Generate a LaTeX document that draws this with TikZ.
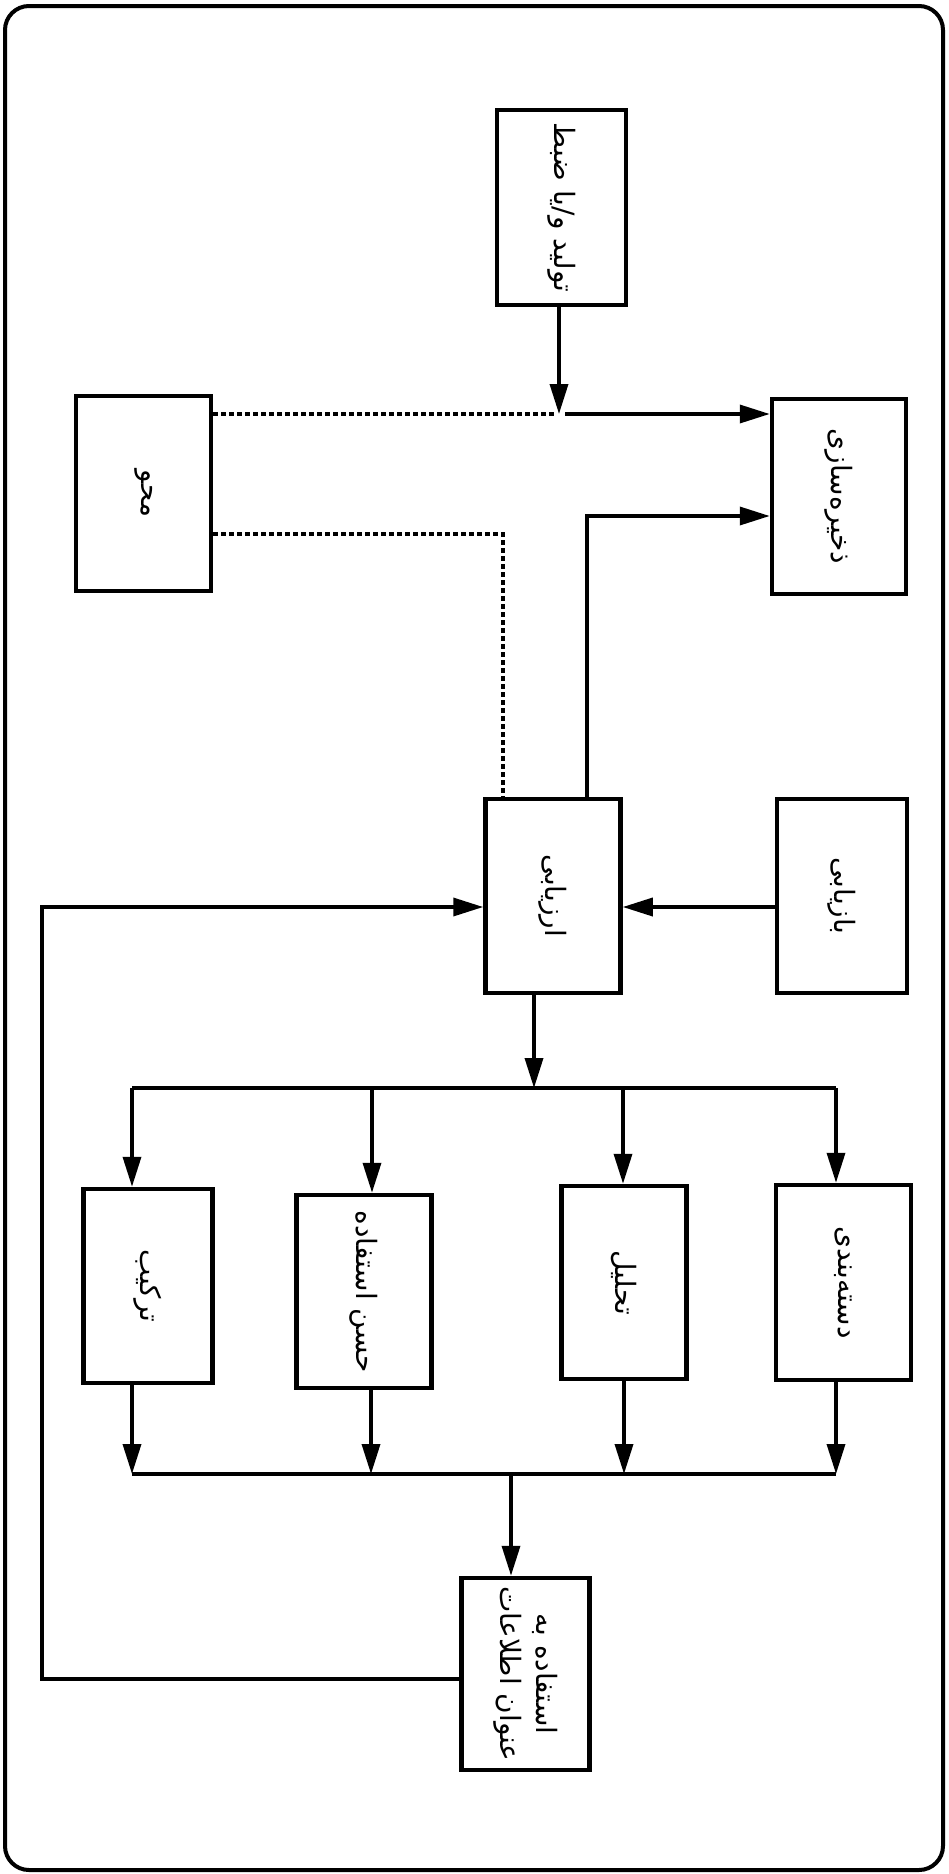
\documentclass[tikz,border=0pt]{standalone}
\usepackage{fontspec}
\usepackage{graphicx}
\newfontfamily\fa[Script=Arabic]{DejaVu Sans}
\TeXXeTstate=1
\usetikzlibrary{arrows.meta}
\newcommand{\rtxt}[1]{\rotatebox{-90}{\fa\beginR #1\endR}}
\begin{document}
\begin{tikzpicture}[x=1pt,y=-1pt,
  box/.style={draw, line width=4.5pt, inner sep=0pt, font=\fontsize{28}{34}\selectfont},
  arr/.style={line width=3.5pt, -{Triangle[length=30pt,width=18pt]}},
  ln/.style={line width=3.5pt},
  dsh/.style={line width=3.5pt, dash pattern=on 5pt off 3pt},
  frm/.style={draw, line width=4pt, rounded corners=24pt, inner sep=0pt}
]
\useasboundingbox (0,0) rectangle (948,1874);
\node[frm, minimum width=938pt, minimum height=1864pt] (frame) at (474,938) {};

% boxes
\node[box, minimum width=129pt, minimum height=195pt] (gen) at (561.5,207.5) {\rtxt{تولید و/یا ضبط}};
\node[box, minimum width=135pt, minimum height=195pt] (mahv) at (143.5,493.5) {\rtxt{محو}};
\node[box, minimum width=134pt, minimum height=195pt] (store) at (839,496.5) {\rtxt{ذخیره‌سازی}};
\node[box, minimum width=135pt, minimum height=194pt] (eval) at (553,896) {\rtxt{ارزیابی}};
\node[box, minimum width=130pt, minimum height=194pt] (retr) at (842,896) {\rtxt{بازیابی}};
\node[box, minimum width=129pt, minimum height=194pt] (comb) at (148,1286) {\rtxt{ترکیب}};
\node[box, minimum width=135pt, minimum height=193pt] (good) at (364,1291.5) {\rtxt{حسن استفاده}};
\node[box, minimum width=125pt, minimum height=193pt] (anal) at (624,1282.5) {\rtxt{تحلیل}};
\node[box, minimum width=135pt, minimum height=195pt] (class) at (843.5,1282.5) {\rtxt{دسته‌بندی}};
\node[box, minimum width=128pt, minimum height=192pt] (use) at (525.5,1674) {\rotatebox{-90}{\fa\begin{tabular}{@{}c@{}}\beginR استفاده به\endR\\[2pt]\beginR عنوان اطلاعات\endR\end{tabular}}};

% junctions
\coordinate (j1) at (559,414);
\coordinate (k1) at (587,516);
\coordinate (d2) at (503,534);
\coordinate (fb) at (42,907);
\coordinate (b1) at (534,1088);
\coordinate (c1) at (132,1088);
\coordinate (c2) at (372,1088);
\coordinate (c3) at (623,1088);
\coordinate (c4) at (836,1088);
\coordinate (e1) at (132,1474);
\coordinate (e2) at (371,1474);
\coordinate (e3) at (624,1474);
\coordinate (e4) at (836,1474);
\coordinate (b2) at (511,1474);
\coordinate (f1) at (42,1679);

% top part
\draw[arr] (gen.south -| j1) -- (j1);
\draw[dsh] (mahv.east |- j1) -- ([xshift=-3pt]j1);
\draw[arr] ([xshift=6pt]j1) -- (store.west |- j1);
\draw[arr] (eval.north -| k1) -- (k1) -- (store.west |- k1);
\draw[dsh] (mahv.east |- d2) -- (d2) -- (eval.north -| d2);
\draw[arr] (retr.west |- fb) -- (eval.east |- fb);

% distribution
\draw[arr] (eval.south -| b1) -- (b1);
\draw[ln] (c1) -- (c4);
\draw[arr] (c1) -- (comb.north -| c1);
\draw[arr] (c2) -- (good.north -| c2);
\draw[arr] (c3) -- (anal.north -| c3);
\draw[arr] (c4) -- (class.north -| c4);

% collection
\draw[arr] (comb.south -| e1) -- (e1);
\draw[arr] (good.south -| e2) -- (e2);
\draw[arr] (anal.south -| e3) -- (e3);
\draw[arr] (class.south -| e4) -- (e4);
\draw[ln] (e1) -- (e4);
\draw[arr] (b2) -- (use.north -| b2);

% feedback
\draw[arr] (use.west |- f1) -- (f1) -- (f1 |- fb) -- (eval.west |- fb);
\end{tikzpicture}
\end{document}
